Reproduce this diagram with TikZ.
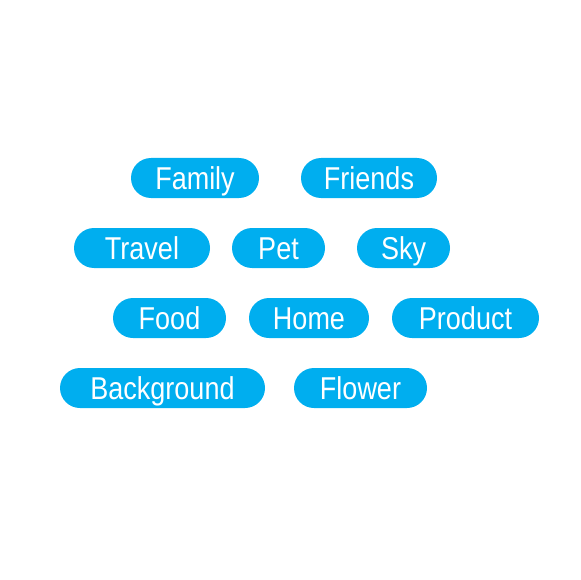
\documentclass[tikz,border=0pt]{standalone}
\usepackage{fontspec}
\setmainfont{Liberation Sans}
\definecolor{pillblue}{RGB}{0,174,239}
\newcommand{\pilltxt}[1]{\scalebox{1}[1.17]{#1}}
\tikzset{
  pill/.style={fill=pillblue, text=white, rounded corners=20pt, minimum height=40pt,
    inner sep=0pt, text height=24pt, text depth=2pt,
    font=\fontsize{27}{30}\selectfont, anchor=center}
}
\begin{document}
\begin{tikzpicture}[x=1pt,y=-1pt]
\useasboundingbox (0,0) rectangle (580,580);
\node[pill, minimum width=128pt] (family) at (195,178) {\pilltxt{Family}};
\node[pill, minimum width=136pt] (friends) at (369,178) {\pilltxt{Friends}};
\node[pill, minimum width=136pt] (travel) at (142,248) {\pilltxt{Travel}};
\node[pill, minimum width=93pt] (pet) at (278.5,248) {\pilltxt{Pet}};
\node[pill, minimum width=93pt] (sky) at (403.5,248) {\pilltxt{Sky}};
\node[pill, minimum width=113pt] (food) at (169.5,318) {\pilltxt{Food}};
\node[pill, minimum width=120pt] (home) at (309,318) {\pilltxt{Home}};
\node[pill, minimum width=147pt] (product) at (465.5,318) {\pilltxt{Product}};
\node[pill, minimum width=205pt] (background) at (162.5,388) {\pilltxt{Background}};
\node[pill, minimum width=133pt] (flower) at (360.5,388) {\pilltxt{Flower}};
\end{tikzpicture}
\end{document}
